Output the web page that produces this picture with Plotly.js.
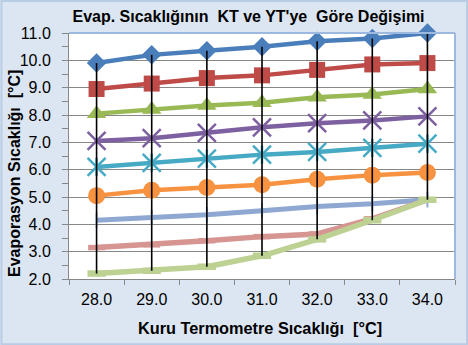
<!DOCTYPE html>
<html>
<head>
<meta charset="utf-8">
<script src="https://cdn.plot.ly/plotly-3.0.1.min.js"></script>
<style>
  html, body { margin: 0; padding: 0; background: #DCE6F2; }
  #chart { width: 468px; height: 345px; }
</style>
</head>
<body>
<div id="chart"></div>
<script>
// Categories: dry-bulb temperature [°C]
var categories = ["28.0", "29.0", "30.0", "31.0", "32.0", "33.0", "34.0"];

// Evaporation temperature series [°C]
var s1 = [9.9, 10.2, 10.35, 10.5, 10.7, 10.8, 11.0];   // blue diamond
var s2 = [8.95, 9.15, 9.35, 9.45, 9.65, 9.85, 9.9];    // red square
var s3 = [8.05, 8.2, 8.35, 8.45, 8.65, 8.75, 8.95];    // green triangle
var s4 = [7.05, 7.15, 7.35, 7.55, 7.7, 7.8, 7.95];     // purple x
var s5 = [6.1, 6.25, 6.4, 6.55, 6.65, 6.8, 6.95];      // teal star
var s6 = [5.05, 5.25, 5.35, 5.45, 5.65, 5.8, 5.9];     // orange circle
var s7 = [4.15, 4.25, 4.35, 4.5, 4.65, 4.75, 4.9];     // light blue plus
var s8 = [3.15, 3.25, 3.4, 3.55, 3.65, 4.2, 4.9];      // light red dash
var s9 = [2.2, 2.3, 2.45, 2.85, 3.45, 4.15, 4.9];      // light green dash

var yTickVals = [2, 3, 4, 5, 6, 7, 8, 9, 10, 11];

var FONT = "Liberation Sans, Arial, sans-serif";
var GRID = "#878787";

function series(y, color, lw, sym, size, mline) {
  return {
    x: categories, y: y, type: "scatter", mode: "lines+markers",
    line: { color: color, width: lw },
    marker: { symbol: sym, size: size, color: color,
              line: { color: color, width: mline } },
    hoverinfo: "skip", showlegend: false, cliponaxis: false
  };
}
function markersOnly(y, color, sym, size, mline) {
  return {
    x: categories, y: y, type: "scatter", mode: "markers",
    marker: { symbol: sym, size: size, color: color,
              line: { color: color, width: mline } },
    hoverinfo: "skip", showlegend: false, cliponaxis: false
  };
}

var all = [s1, s2, s3, s4, s5, s6, s7, s8, s9];
var hlX = [], hlY = [];
for (var i = 0; i < categories.length; i++) {
  var col = all.map(function (s) { return s[i]; });
  hlX.push(categories[i], categories[i], null);
  hlY.push(Math.max.apply(null, col), Math.min.apply(null, col), null);
}

var traces = [
  series(s1, "#4A7EBB", 4.5, "diamond", 15, 0),
  series(s2, "#BE4B48", 4.5, "square", 16, 0),
  series(s3, "#98B954", 4.5, "triangle-up", 17, 0),
  series(s4, "#7D60A0", 4.5, "x-thin-open", 18, 2.5),
  series(s5, "#46AAC5", 4.5, "x-thin-open", 18, 2.5),
  markersOnly(s5, "#46AAC5", "line-ns-open", 13, 2.5),
  series(s6, "#F69240", 4.5, "circle", 17, 0),
  series(s7, "#8EA8D2", 5, "line-ns-open", 11, 2),
  series(s8, "#D79592", 5.5, "line-ew-open", 12, 5.5),
  series(s9, "#BCD192", 5.5, "line-ew-open", 13, 6.5),
  {
    x: hlX, y: hlY, type: "scatter", mode: "lines",
    line: { color: "#000000", width: 1.6 },
    hoverinfo: "skip", showlegend: false, connectgaps: false
  }
];

var layout = {
  width: 468, height: 345,
  margin: { l: 69, r: 13, t: 33, b: 66, pad: 0 },
  paper_bgcolor: "#DCE6F2",
  plot_bgcolor: "#FFFFFF",
  font: { family: FONT, size: 16, color: "#000000" },
  title: {
    text: "<b>Evap. Sıcaklığının&nbsp; KT ve YT'ye&nbsp; Göre Değişimi</b>",
    font: { family: FONT, size: 16, color: "#000000" },
    x: 0.531, xref: "container", xanchor: "center",
    y: 0.953, yref: "container", yanchor: "middle"
  },
  xaxis: {
    type: "category",
    tickson: "boundaries",
    ticks: "outside", ticklen: 5, tickcolor: GRID, tickwidth: 1,
    showline: true, linecolor: GRID, linewidth: 1,
    showgrid: false, zeroline: false,
    ticklabelstandoff: 6,
    tickfont: { family: FONT, size: 16, color: "#000000" },
    range: [-0.5, 6.5], fixedrange: true
  },
  yaxis: {
    range: [2, 11],
    tickvals: yTickVals,
    tickformat: ".1f",
    ticks: "outside", ticklen: 6, tickcolor: GRID, tickwidth: 1,
    minor: { dtick: 0.5, ticks: "outside", ticklen: 6, tickcolor: GRID, showgrid: false },
    showline: true, linecolor: GRID, linewidth: 1,
    showgrid: true, gridcolor: GRID, gridwidth: 1,
    zeroline: false,
    ticklabelstandoff: 8,
    tickfont: { family: FONT, size: 16, color: "#000000" },
    fixedrange: true
  },
  shapes: [
    { type: "line", xref: "paper", yref: "paper", x0: 0, x1: 1, y0: 1, y1: 1,
      line: { color: "#9DB9E0", width: 2 } },
    { type: "line", xref: "paper", yref: "paper", x0: 1, x1: 1, y0: 0, y1: 1,
      line: { color: "#9DB9E0", width: 2 } },
    { type: "rect", xref: "paper", yref: "paper", x0: -0.175, x1: 1.031, y0: -0.265, y1: 1.13,
      line: { color: "#B8CCE4", width: 2 }, fillcolor: "rgba(0,0,0,0)", layer: "below" }
  ],
  annotations: [
    { text: "<b>Evaporasyon Sıcaklığı&nbsp; [°C]</b>", xref: "paper", yref: "paper",
      x: -0.141, y: 0.429, xanchor: "center", yanchor: "middle", textangle: -90,
      showarrow: false, font: { family: FONT, size: 16, color: "#000000" } },
    { text: "<b>Kuru Termometre Sıcaklığı&nbsp; [°C]</b>", xref: "paper", yref: "paper",
      x: 0.495, y: -0.199, xanchor: "center", yanchor: "middle",
      showarrow: false, font: { family: FONT, size: 16.3, color: "#000000" } }
  ]
};

Plotly.newPlot("chart", traces, layout, { staticPlot: true, displayModeBar: false });
</script>
</body>
</html>
